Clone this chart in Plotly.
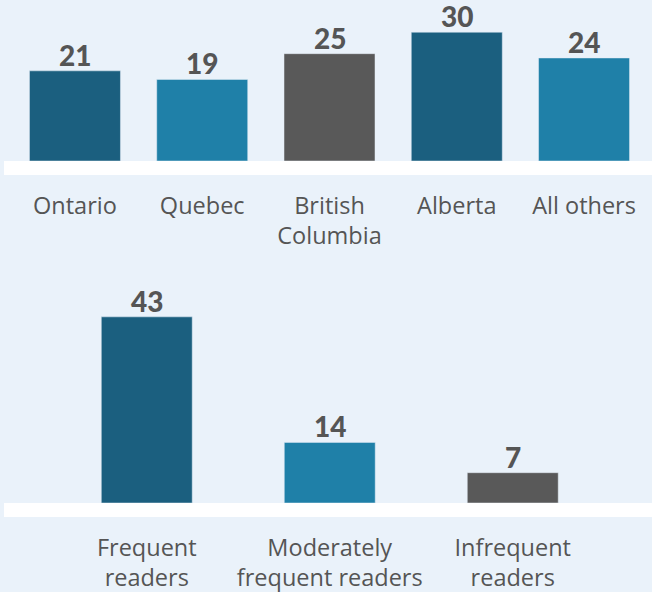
import plotly.graph_objects as go

W, H = 652, 592

# ---- data ----
regions = ["Ontario", "Quebec", "British<br>Columbia", "Alberta", "All others"]
region_values = [21, 19, 25, 30, 24]
readers = ["Frequent<br>readers", "Moderately<br>frequent readers", "Infrequent<br>readers"]
reader_values = [43, 14, 7]

DARK = "#1B5F7F"
MID = "#1F80A8"
GREY = "#595959"
BG = "#EAF2FA"
TXT = "#555555"

region_colors = [DARK, MID, GREY, DARK, MID]
reader_colors = [DARK, MID, GREY]

def py(p):  # pixel y -> paper
    return 1 - p / H

valfont = dict(family="Lato", size=28, color=TXT, weight=900)

fig = go.Figure()

fig.add_trace(go.Bar(
    x=regions, y=region_values, marker_color=region_colors, width=0.715,
    xaxis="x", yaxis="y", hoverinfo="skip"))

fig.add_trace(go.Bar(
    x=readers, y=reader_values, marker_color=reader_colors, width=0.497,
    xaxis="x2", yaxis="y2", hoverinfo="skip"))

# value labels
for cat, v in zip(regions, region_values):
    fig.add_annotation(x=cat, y=v, xref="x", yref="y", text=str(v), showarrow=False,
                       yanchor="bottom", yshift=-3, font=valfont)
for cat, v in zip(readers, reader_values):
    fig.add_annotation(x=cat, y=v, xref="x2", yref="y2", text=str(v), showarrow=False,
                       yanchor="bottom", yshift=-3, font=valfont)

# white baseline bands
fig.add_shape(type="rect", xref="paper", yref="paper", x0=4 / W, x1=1,
              y0=py(175), y1=py(161), fillcolor="white", line_width=0, layer="below")
fig.add_shape(type="rect", xref="paper", yref="paper", x0=4 / W, x1=1,
              y0=py(517), y1=py(503), fillcolor="white", line_width=0, layer="below")

tickfont = dict(family="Open Sans", size=23.5, color=TXT)

fig.update_layout(
    width=W, height=H, margin=dict(l=0, r=0, t=0, b=0),
    paper_bgcolor=BG, plot_bgcolor="rgba(0,0,0,0)", showlegend=False,
    xaxis=dict(domain=[0, 1], range=[-0.589, 4.534], showgrid=False, zeroline=False,
               showline=False, ticks="", tickfont=tickfont, ticklabelstandoff=28,
               anchor="y", fixedrange=True),
    yaxis=dict(domain=[py(161), 1], range=[0, 37.5], visible=False, anchor="x",
               fixedrange=True),
    xaxis2=dict(domain=[0, 1], range=[-0.802, 2.761], showgrid=False, zeroline=False,
                showline=False, ticks="", tickfont=tickfont, ticklabelstandoff=28,
                anchor="y2", fixedrange=True),
    yaxis2=dict(domain=[py(503), py(290)], range=[0, 49.2], visible=False, anchor="x2",
                fixedrange=True),
)

fig.write_html("out.html", config={"displayModeBar": False},
               post_script="document.body.style.margin='0';document.body.style.background='" + BG + "';")
